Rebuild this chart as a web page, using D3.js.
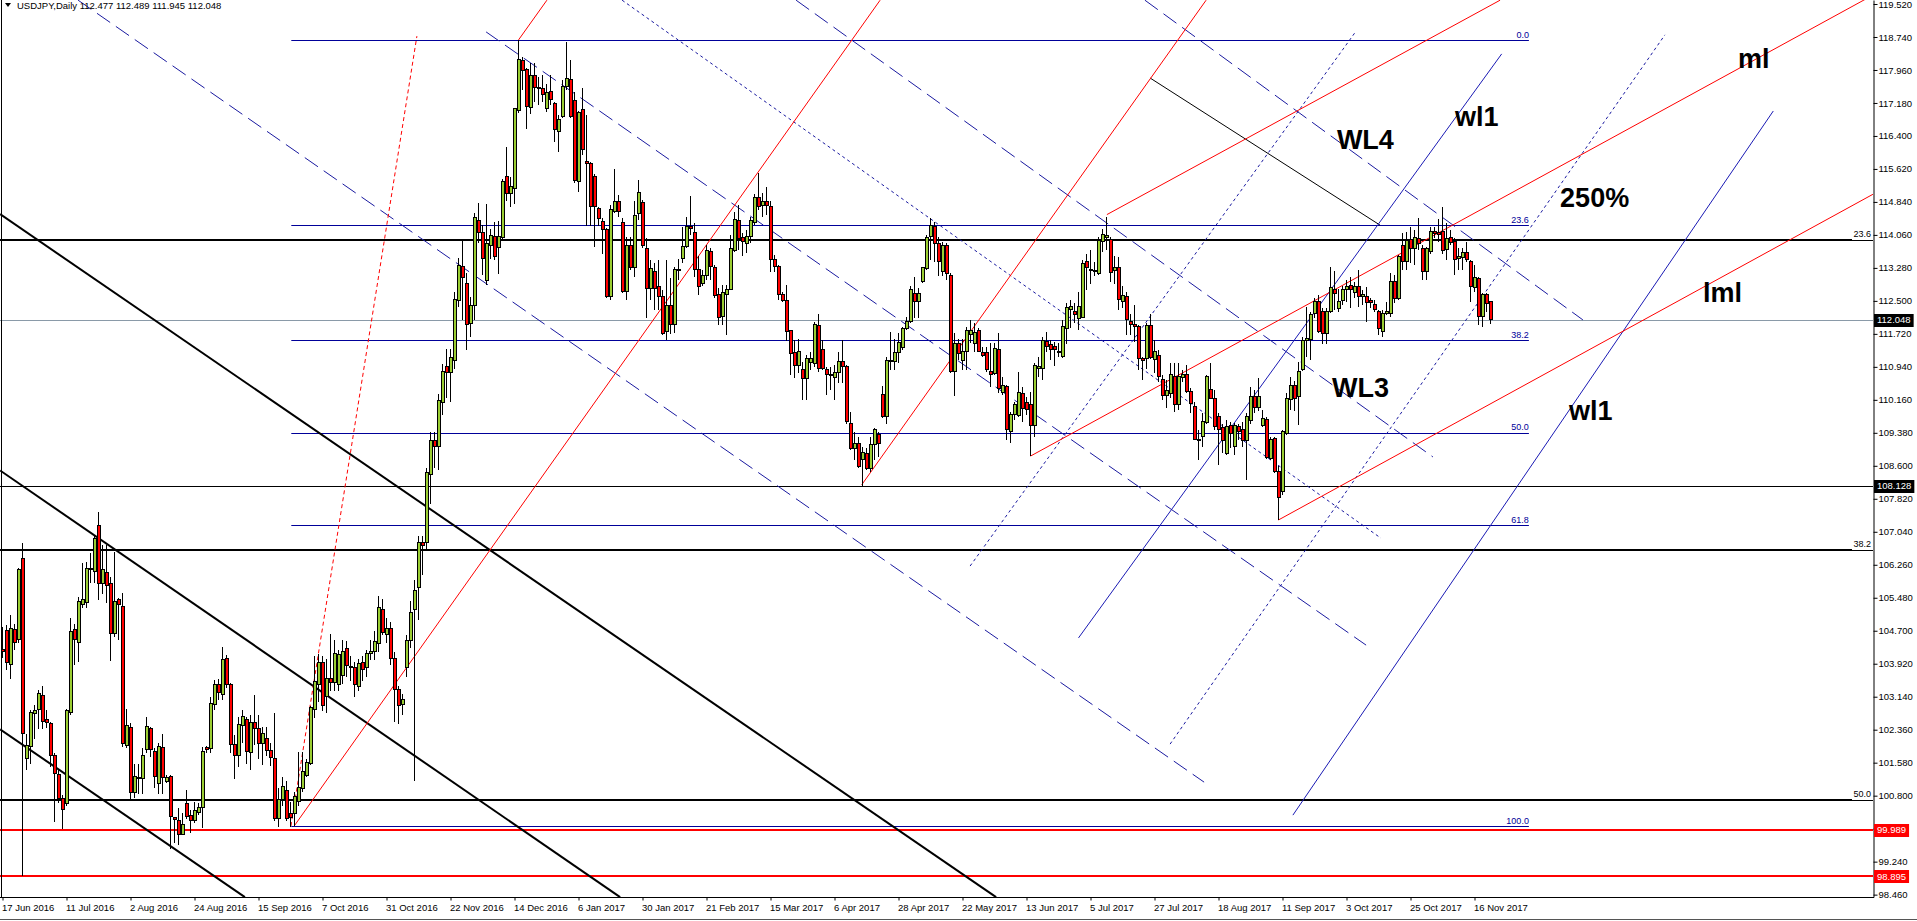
<!DOCTYPE html>
<html lang="en">
<head>
<meta charset="UTF-8">
<title>USDJPY, Daily</title>
<script src="https://d3js.org/d3.v7.min.js"></script>
<style>
  html, body { margin: 0; padding: 0; background: #fff; overflow: hidden; }
  svg { display: block; font-family: "Liberation Sans", Arial, sans-serif; }
  .axis text { font-size: 9.5px; fill: #000; }
  .axis line, .axis path { stroke: #000; }
  .note { font-size: 27px; font-weight: bold; fill: #000; }
  .lvl { font-size: 9px; }
</style>
</head>
<body>
<svg id="chart" width="1917" height="921"></svg>
<script>
// daily bars, 17 Jun 2016 .. 22 Nov 2017, [open, high, low, close]
const candles = [
  [104.25,104.80,104.05,104.20],[104.70,104.83,103.77,103.95],[103.89,105.07,103.57,104.76],[104.74,104.87,104.24,104.43],
  [104.50,106.18,104.42,106.14],[106.41,106.78,98.90,102.27],[101.67,102.27,101.41,101.99],[101.96,102.83,101.56,102.76],
  [102.75,102.94,102.15,102.81],[102.84,103.30,102.37,103.22],[103.17,103.39,102.37,102.55],[102.59,102.82,102.39,102.53],
  [102.51,102.55,101.48,101.75],[101.74,101.80,100.18,101.33],[101.31,101.41,100.62,100.74],[100.74,100.81,100.01,100.48],
  [100.62,102.86,100.55,102.82],[102.76,104.99,102.70,104.69],[104.72,104.87,103.89,104.50],[104.42,105.50,103.97,105.39],
  [105.32,106.29,105.23,105.45],[105.36,106.33,105.23,106.16],[106.15,106.55,105.82,106.18],[106.10,106.96,105.82,106.88],
  [107.20,107.50,105.43,105.82],[105.82,106.73,105.58,106.14],[106.08,106.73,105.35,105.78],[105.82,105.98,103.99,104.64],
  [104.64,106.57,104.56,105.40],[105.43,105.47,104.48,105.31],[105.28,105.60,101.95,102.04],[101.99,102.86,101.92,102.45],
  [102.42,102.51,100.70,100.87],[100.87,101.56,100.74,101.25],[101.21,101.56,100.85,101.23],[101.21,101.92,100.85,101.76],
  [101.88,102.67,101.80,102.43],[102.39,102.43,101.72,101.88],[101.84,101.92,100.97,101.25],[101.09,102.04,100.85,101.96],
  [101.94,102.27,100.85,101.23],[101.13,101.29,101.09,101.23],[101.25,101.29,99.55,100.30],[100.28,100.30,99.67,100.24],
  [100.22,100.50,99.63,99.89],[99.88,100.38,99.87,100.13],[100.62,100.93,100.26,100.30],[100.32,100.46,99.92,100.22],
  [100.21,100.66,100.15,100.46],[100.40,100.62,100.35,100.52],[100.52,101.96,100.03,101.84],[101.94,101.97,101.80,101.89],
  [101.92,103.14,101.80,102.97],[102.96,103.53,102.83,103.43],[103.42,103.57,103.06,103.23],[103.20,104.32,103.06,104.02],
  [104.05,104.13,103.34,103.43],[103.42,103.46,101.80,102.02],[102.02,102.23,101.19,101.75],[101.75,102.67,101.48,102.49],
  [102.47,102.82,102.04,102.68],[102.59,102.67,101.56,101.84],[101.81,102.70,101.40,102.52],[102.52,103.18,101.99,102.40],
  [102.40,102.70,101.66,102.04],[102.04,102.42,101.53,102.28],[102.15,102.42,101.74,101.87],[101.87,102.04,101.49,101.70],
  [101.67,102.76,100.20,100.26],[100.26,100.98,100.05,100.72],[100.72,101.23,100.55,101.02],[100.93,101.15,100.21,100.26],
  [100.37,100.64,100.05,100.28],[100.37,100.89,100.08,100.79],[100.66,101.83,100.55,101.00],[100.96,101.83,100.89,101.36],
  [101.27,101.66,101.23,101.59],[101.57,102.93,101.53,102.88],[102.84,104.11,102.63,103.50],[103.44,104.16,103.01,103.94],
  [103.94,104.11,102.80,102.93],[103.14,104.03,102.76,103.56],[103.56,104.62,103.27,103.48],[103.48,104.49,103.27,104.16],
  [103.43,104.24,103.27,104.13],[103.65,104.49,103.43,104.20],[104.28,104.45,103.60,103.87],[103.86,104.10,103.50,103.82],
  [103.82,103.96,103.14,103.42],[103.39,104.03,103.27,103.92],[103.94,104.10,103.50,103.79],[103.82,104.24,103.60,104.16],
  [104.16,104.49,104.00,104.22],[104.20,104.70,104.00,104.45],[104.41,105.51,104.20,105.26],[105.21,105.45,104.60,104.66],
  [104.60,105.00,104.40,104.75],[104.75,104.90,103.90,104.05],[104.05,104.20,102.55,103.31],[103.31,103.40,102.50,102.93],
  [102.96,103.20,102.70,103.07],[103.84,104.60,103.60,104.47],[104.47,105.40,104.30,105.13],[105.20,105.90,101.15,105.66],
  [105.72,106.95,104.96,106.78],[106.79,106.95,106.02,106.72],[106.78,108.54,106.60,108.44],[108.40,109.40,107.70,109.20],
  [109.20,109.40,108.55,109.05],[109.05,110.30,108.50,110.15],[110.10,111.00,109.80,110.83],[110.96,111.37,110.20,110.81],
  [110.80,111.37,110.10,111.15],[111.10,112.70,110.90,112.54],[112.52,113.52,112.36,113.34],[113.31,113.92,112.05,113.06],
  [112.91,113.17,111.35,111.93],[111.97,112.60,111.64,112.39],[112.39,114.57,112.05,114.47],[114.41,114.82,113.86,114.12],
  [114.12,114.29,113.11,113.50],[112.99,114.79,112.87,113.86],[113.82,114.20,113.50,114.04],[114.02,114.37,113.47,113.55],
  [113.76,114.40,113.13,114.03],[114.00,115.38,113.95,115.33],[115.44,116.13,114.85,115.04],[115.04,115.44,114.73,115.20],
  [115.16,117.06,114.80,117.05],[117.00,118.66,116.95,118.20],[118.18,118.27,117.49,117.94],[117.96,118.00,116.56,117.09],
  [117.08,118.12,116.93,117.84],[117.84,118.12,117.21,117.55],[117.55,117.80,117.13,117.54],[117.53,117.84,117.21,117.39],
  [117.05,117.64,116.97,117.42],[117.45,117.84,117.13,117.27],[117.16,117.21,116.26,116.56],[116.50,116.90,116.03,116.78],
  [116.86,117.72,116.82,117.56],[117.56,118.63,117.49,117.76],[117.74,118.20,116.82,116.86],[117.23,117.45,115.28,115.34],
  [115.32,117.00,115.08,116.96],[117.03,117.53,115.95,116.08],[115.79,116.89,114.26,115.76],[115.75,115.79,114.26,114.74],
  [115.44,115.50,113.78,114.73],[114.69,114.73,114.26,114.45],[114.38,114.45,113.62,114.18],[114.18,114.22,112.57,112.60],
  [112.60,114.77,112.52,114.65],[114.62,115.63,114.57,114.85],[114.85,115.00,114.49,114.62],[114.36,114.45,112.68,112.72],
  [112.72,114.02,112.52,113.82],[113.82,114.02,113.23,113.29],[113.29,114.85,113.07,114.53],[114.56,115.37,114.41,115.06],
  [114.83,114.88,113.75,113.80],[113.74,113.98,112.09,112.80],[112.80,113.47,112.52,113.27],[113.19,113.39,112.28,112.80],
  [112.84,113.47,112.28,112.60],[112.60,112.76,111.69,111.73],[111.77,113.47,111.57,112.40],[112.38,113.03,111.72,111.93],
  [111.93,113.31,111.73,113.25],[113.24,113.50,113.00,113.25],[113.51,114.25,113.39,113.78],[113.78,114.49,113.74,114.26],
  [114.26,114.98,114.06,114.22],[114.11,114.33,113.07,113.25],[113.25,113.55,112.64,112.85],[112.90,113.23,112.84,113.11],
  [113.11,113.82,112.99,113.70],[113.66,113.74,113.00,113.31],[113.30,113.35,112.56,112.62],[112.66,112.80,111.93,112.11],
  [112.13,112.87,111.93,112.70],[112.66,112.87,111.70,112.78],[112.77,114.06,112.76,113.74],[113.70,114.61,113.66,114.43],
  [114.41,114.77,113.70,113.98],[113.99,114.10,113.56,113.90],[113.85,114.17,113.64,114.02],[114.02,114.49,113.86,114.41],
  [114.36,115.03,114.30,114.95],[114.95,115.52,114.65,114.74],[114.75,115.04,114.49,114.86],[114.86,115.20,114.53,114.75],
  [114.74,114.85,113.19,113.48],[113.48,113.58,113.19,113.31],[113.31,113.35,112.52,112.64],[112.64,112.72,112.48,112.50],
  [112.50,112.87,111.54,111.77],[111.80,111.81,110.75,111.26],[111.27,111.57,110.67,110.98],[110.98,111.60,110.80,111.30],
  [110.88,111.06,110.16,110.67],[110.67,111.22,110.16,111.14],[111.04,111.30,110.87,111.13],[111.02,112.01,110.94,111.95],
  [111.91,112.20,110.83,110.91],[111.35,111.57,110.87,110.90],[110.88,110.94,110.27,110.75],[110.75,110.94,110.40,110.74],
  [110.70,110.98,110.16,110.80],[110.80,111.30,110.55,111.06],[111.06,111.57,110.55,110.95],[110.94,110.98,109.60,109.64],
  [109.60,109.88,108.97,109.01],[109.01,109.41,108.74,109.12],[109.13,109.29,108.54,108.58],[108.75,109.05,108.13,108.91],
  [108.90,109.01,108.50,108.54],[108.54,109.29,108.46,109.10],[109.10,109.49,108.74,109.45],[109.34,109.41,108.82,109.12],
  [110.29,110.49,109.72,109.76],[109.76,111.18,109.60,111.10],[111.08,111.77,110.87,111.07],[111.06,111.60,110.87,111.28],
  [111.28,111.73,111.02,111.51],[111.40,111.89,111.34,111.85],[111.85,112.13,111.80,112.01],[112.01,112.84,111.97,112.78],
  [112.68,113.07,112.09,112.48],[112.48,112.80,112.09,112.68],[112.97,113.31,112.92,113.29],[113.26,114.06,113.23,114.00],
  [114.02,114.45,113.47,114.29],[114.26,114.37,113.43,113.86],[113.86,114.00,113.10,113.43],[113.20,113.90,113.10,113.80],
  [113.80,113.86,113.00,113.14],[113.11,113.15,110.79,110.83],[110.83,111.73,110.24,111.50],[111.49,111.61,111.10,111.26],
  [111.10,111.61,110.87,111.30],[111.30,111.89,110.87,111.81],[111.70,112.05,111.50,111.80],[111.50,111.97,111.30,111.75],
  [111.79,111.85,111.30,111.31],[111.27,111.40,111.18,111.22],[111.27,111.40,110.82,110.87],[110.84,111.50,110.47,110.77],
  [110.79,111.50,110.75,111.38],[111.35,111.73,110.31,110.43],[110.33,110.70,110.28,110.49],[110.47,110.51,109.21,109.45],
  [109.41,109.88,109.13,109.82],[109.82,110.12,109.68,110.06],[109.80,110.83,109.76,110.34],[110.31,110.47,109.64,109.96],
  [110.09,110.23,109.80,109.92],[110.06,110.35,108.83,109.56],[109.56,111.02,109.29,110.97],[110.90,111.18,110.71,110.95],
  [110.90,111.65,110.63,111.57],[111.55,111.77,111.30,111.43],[111.46,111.57,111.10,111.35],[111.42,111.53,110.95,111.34],
  [111.30,111.50,111.18,111.29],[111.18,112.05,111.14,111.89],[111.85,112.46,111.48,112.35],[112.30,112.52,111.85,112.36],
  [112.26,112.44,111.97,112.17],[112.09,112.72,111.81,112.36],[112.10,113.47,112.09,113.39],[113.44,113.62,112.76,113.29],
  [113.24,113.70,112.91,113.25],[113.23,113.43,113.10,113.20],[113.15,114.02,113.11,113.92],[113.90,114.19,113.66,114.06],
  [114.00,114.49,113.70,114.04],[113.95,114.00,112.95,113.17],[113.21,113.56,112.91,113.29],[113.29,113.54,112.28,112.54],
  [112.48,112.85,112.32,112.62],[112.60,112.72,111.69,112.06],[112.02,112.20,111.69,111.94],[111.93,112.40,111.53,111.90],
  [111.89,111.93,110.86,111.14],[111.13,111.18,110.63,111.10],[111.14,111.97,110.90,111.91],[111.91,112.20,111.12,111.16],
  [111.12,111.57,110.79,111.30],[111.22,111.34,110.59,110.71],[110.63,110.75,110.16,110.27],[110.27,110.63,109.96,110.39],
  [110.30,111.02,110.20,110.75],[110.71,111.02,109.88,110.06],[110.04,111.04,109.92,110.71],[110.70,110.86,110.59,110.75],
  [110.75,110.98,110.31,110.35],[110.35,110.43,109.84,110.08],[110.01,110.12,109.20,109.23],[109.22,109.45,108.74,109.20],
  [109.29,109.84,109.05,109.64],[109.62,110.75,109.60,110.71],[110.41,111.02,110.17,110.20],[110.20,110.39,109.45,109.53],
  [109.76,109.86,108.62,109.45],[109.51,109.60,108.90,109.21],[108.90,109.68,108.86,109.54],[109.56,109.64,109.01,109.37],
  [109.05,109.62,108.86,109.56],[109.54,109.60,109.21,109.41],[109.47,109.64,109.05,109.21],[109.21,109.84,108.26,109.76],
  [109.68,110.47,109.60,110.23],[110.23,110.39,109.84,109.99],[109.99,110.67,109.90,110.25],[109.56,109.92,109.52,109.72],
  [109.70,109.75,108.75,108.80],[108.77,109.29,108.74,109.23],[109.25,109.29,108.42,108.46],[108.46,108.60,107.32,107.84],
  [108.00,109.45,107.90,109.40],[109.37,110.31,109.33,110.20],[110.16,110.71,109.92,110.51],[110.51,110.60,109.90,110.20],
  [110.23,111.06,109.56,110.84],[110.88,111.65,110.85,111.57],[111.56,112.36,111.18,111.60],[111.59,112.24,111.10,112.18],
  [112.21,112.56,112.10,112.48],[112.48,112.64,111.73,111.77],[112.24,112.32,111.49,111.73],[111.72,112.32,111.49,112.24],
  [112.24,113.29,112.21,112.82],[112.76,113.20,112.28,112.68],[112.32,112.79,112.24,112.48],[112.50,112.85,112.40,112.77],
  [112.76,112.99,112.48,112.85],[112.87,113.07,112.32,112.76],[112.69,112.95,112.56,112.83],[112.83,113.23,112.36,112.60],
  [112.60,112.76,112.40,112.64],[112.61,112.82,112.01,112.46],[112.52,112.56,112.32,112.46],[112.42,112.52,112.24,112.30],
  [112.26,112.28,111.69,111.85],[111.77,112.28,111.65,112.20],[112.20,112.48,112.16,112.24],[112.20,113.15,112.12,112.95],
  [112.95,113.11,112.44,112.56],[112.56,113.58,112.52,113.56],[113.80,114.10,113.23,113.43],[113.43,114.14,113.23,113.92],
  [113.94,114.25,113.39,113.74],[113.74,114.17,113.35,114.00],[113.98,114.45,113.70,113.86],[113.74,113.82,112.99,113.19],
  [113.19,113.78,112.99,113.74],[113.66,114.25,113.62,114.14],[114.15,114.25,113.98,114.10],[114.11,114.43,113.90,114.06],
  [114.14,114.73,113.62,113.70],[113.72,114.33,113.47,113.98],[114.00,114.17,113.82,113.88],[113.90,113.98,113.11,113.47],
  [113.50,113.74,113.23,113.56],[113.53,113.74,113.23,113.64],[113.64,113.90,113.43,113.47],[113.43,113.47,112.48,112.85],
  [112.82,113.35,112.72,113.06],[113.03,113.07,111.93,112.13],[112.13,112.68,111.89,112.64],[112.64,112.68,112.24,112.44],
  [112.477,112.489,111.945,112.048]
];

// 100.020 sits under the 99.989 marker, so only its tick is drawn
const priceTicks = [119.52,118.74,117.96,117.18,116.40,115.62,114.84,114.06,113.28,112.50,111.72,110.94,110.16,109.38,
  108.60,107.82,107.04,106.26,105.48,104.70,103.92,103.14,102.36,101.58,100.80,100.02,99.24,98.46];
const hiddenTick = 100.02;

const timeLabels = ["17 Jun 2016","11 Jul 2016","2 Aug 2016","24 Aug 2016","15 Sep 2016","7 Oct 2016","31 Oct 2016",
  "22 Nov 2016","14 Dec 2016","6 Jan 2017","30 Jan 2017","21 Feb 2017","15 Mar 2017","6 Apr 2017","28 Apr 2017",
  "22 May 2017","13 Jun 2017","5 Jul 2017","27 Jul 2017","18 Aug 2017","11 Sep 2017","3 Oct 2017","25 Oct 2017","16 Nov 2017"];
const barsPerLabel = 16;

// fibonacci retracement Dec-2016 high to Sep-2016 low (blue)
const blueFibLabels = ["0.0","23.6","38.2","50.0","61.8","100.0"];
const blueFibPrices = [118.66,114.29,111.57,109.38,107.20,100.08];
const blueFibSpan = [72.2, 381.6];
// wider black retracement
const blackFibLabels = ["23.6","38.2","50.0"];
const blackFibPrices = [113.95,106.62,100.70];

const bidPrice = 112.048;
const levelPrice = 108.128;
const redLevels = [99.989, 98.895];

// trend lines as [bar1, price1, bar2, price2]
const redFan = [[72.9,100.08,219.4,119.61],[129,118.67,136.1,119.61],[214.8,108.15,300.9,119.61]];
const redDotted = [[72.1,100.08,103.6,118.76]];
const redFork = [[276.1,114.54,374.4,119.61],[257,108.83,467.6,119.73],[319,107.32,467.6,115.02]];
const blueSolid = [[269,104.53,374.8,118.34],[322.6,100.34,442.7,116.99]];
const blueDotted = [[241.9,106.23,338.4,118.88],[291.9,102.02,415.6,118.79],[154.9,119.61,344.6,106.89]];
const blueDashed = [[18.9,119.61,300.4,101.12],[120.9,118.86,340.9,104.36],[198.4,119.61,357.6,108.81],[285.6,119.61,395.1,112.05]];
const blackThick = [[-0.6,114.55,248.4,98.40],[-0.6,108.49,154.4,98.40],[-0.6,102.37,60.6,98.40]];
const blackThin = [[286.9,117.77,344.4,114.29]];

const noteTexts = ["WL4","wl1","250%","ml","lml","WL3","wl1"];
const noteBars = [333.6,363.1,389.4,433.9,425.1,332.4,391.6];
const notePrices = [116.09,116.64,114.72,118.01,112.47,110.23,109.68];

// ---- drawing ----
const svg = d3.select('#chart');
const W = 1873, H = 897;

const x = d3.scaleLinear().domain([0, candles.length - 1]).range([2.5, 2.5 + 4 * (candles.length - 1)]);
const y = d3.scaleLinear().domain([98.404, 119.6146]).range([H, 0]);

svg.append('defs').append('clipPath').attr('id', 'plot')
  .append('rect').attr('x', 0).attr('y', 0).attr('width', W).attr('height', H);

const plot = svg.append('g').attr('clip-path', 'url(#plot)');

function hline(p, color, width, x1, x2) {
  const yy = Math.round(y(p)) + (width % 2 ? 0.5 : 0);
  plot.append('line')
    .attr('x1', x1 === undefined ? 0 : x1).attr('x2', x2 === undefined ? W : x2)
    .attr('y1', yy).attr('y2', yy)
    .attr('stroke', color).attr('stroke-width', width);
}

function segs(list, color, width, dash) {
  plot.selectAll(null).data(list).enter().append('line')
    .attr('x1', d => x(d[0])).attr('y1', d => y(d[1]))
    .attr('x2', d => x(d[2])).attr('y2', d => y(d[3]))
    .attr('stroke', color).attr('stroke-width', width)
    .attr('stroke-dasharray', dash || null);
}

// horizontal levels
blackFibPrices.forEach(p => { hline(p, '#000', 2, 0, 1852); hline(p, '#000', 1, 1852, W); });
hline(levelPrice, '#000', 1);
hline(bidPrice, '#8a9aa8', 1);
blueFibPrices.forEach(p => hline(p, '#000099', 1, x(blueFibSpan[0]), x(blueFibSpan[1])));
redLevels.forEach(p => hline(p, '#ff0000', 2));

// trend lines
segs(blackThick, '#000', 2);
segs(blackThin, '#000', 1);
segs(blueDashed, '#1a1aa0', 1, '16,7');
segs(blueDotted, '#1a1aa0', 1, '3,3');
segs(blueSolid, '#1a1ab4', 1);
segs(redFan, '#ff0000', 1);
segs(redDotted, '#ff0000', 1, '4,3');
segs(redFork, '#ff0000', 1);

// level labels
blueFibLabels.forEach((t, k) => {
  plot.append('text').attr('class', 'lvl').attr('text-anchor', 'end')
    .attr('x', x(blueFibSpan[1])).attr('y', y(blueFibPrices[k]) - 2.5)
    .attr('fill', '#000099').text(t);
});
blackFibLabels.forEach((t, k) => {
  plot.append('text').attr('class', 'lvl').attr('text-anchor', 'end')
    .attr('x', W - 2).attr('y', y(blackFibPrices[k]) - 2.5)
    .attr('fill', '#000').text(t);
});

// candles
const bars = plot.append('g').attr('shape-rendering', 'crispEdges');
bars.selectAll('line').data(candles).enter().append('line')
  .attr('x1', (d, i) => x(i)).attr('x2', (d, i) => x(i))
  .attr('y1', d => y(d[1])).attr('y2', d => y(d[2]))
  .attr('stroke', '#000').attr('stroke-width', 1);
bars.selectAll('rect').data(candles).enter().append('rect')
  .attr('x', (d, i) => x(i) - 1.5).attr('width', 3)
  .attr('y', d => y(Math.max(d[0], d[3])))
  .attr('height', d => Math.max(1, Math.abs(y(d[0]) - y(d[3]))))
  .attr('fill', d => d[3] >= d[0] ? '#9acd32' : '#ff0000')
  .attr('stroke', '#000').attr('stroke-width', 1);

// annotations
noteTexts.forEach((t, k) => {
  plot.append('text').attr('class', 'note')
    .attr('x', x(noteBars[k])).attr('y', y(notePrices[k])).text(t);
});

// price axis
const yAxis = svg.append('g').attr('class', 'axis')
  .attr('transform', `translate(${W + 0.5},0)`)
  .call(d3.axisRight(y).tickValues(priceTicks)
    .tickFormat(d => d === hiddenTick ? '' : d3.format('.3f')(d))
    .tickSize(4).tickSizeOuter(0).tickPadding(1));

// time axis
const xAxis = svg.append('g').attr('class', 'axis')
  .attr('transform', `translate(0,${H + 0.5})`)
  .call(d3.axisBottom(x).tickValues(timeLabels.map((d, k) => k * barsPerLabel))
    .tickFormat((d, k) => timeLabels[k]).tickSize(3).tickSizeOuter(0));
xAxis.select('.domain').remove();
xAxis.selectAll('text').attr('text-anchor', 'start').attr('x', -1).attr('dy', '0.75em');

// frame
svg.append('line').attr('x1', 0).attr('x2', W + 1).attr('y1', H + 0.5).attr('y2', H + 0.5).attr('stroke', '#000');
svg.append('line').attr('x1', 1.5).attr('x2', 1.5).attr('y1', 0).attr('y2', H).attr('stroke', '#000');
svg.append('line').attr('x1', 0).attr('x2', 1917).attr('y1', 919.5).attr('y2', 919.5).attr('stroke', '#555');

// price boxes on the axis
function priceBox(p, bg) {
  const g = svg.append('g');
  const t = g.append('text').attr('x', W + 4).attr('y', y(p)).attr('dy', '0.35em')
    .attr('font-size', '9.5px').attr('fill', '#fff').text(d3.format('.3f')(p));
  const w = t.node().getComputedTextLength();
  g.insert('rect', 'text').attr('x', W + 1).attr('y', Math.round(y(p)) - 6)
    .attr('width', w + 6).attr('height', 13).attr('fill', bg);
}
priceBox(bidPrice, '#000');
priceBox(levelPrice, '#000');
redLevels.forEach(p => priceBox(p, '#ff0000'));

// header
svg.append('path').attr('d', 'M5,3 L11,3 L8,7 Z').attr('fill', '#000');
svg.append('text').attr('x', 17).attr('y', 9).attr('font-size', '9.5px').attr('fill', '#000')
  .text('USDJPY,Daily  ' + candles[candles.length - 1].map(d3.format('.3f')).join(' '));
</script>
</body>
</html>
